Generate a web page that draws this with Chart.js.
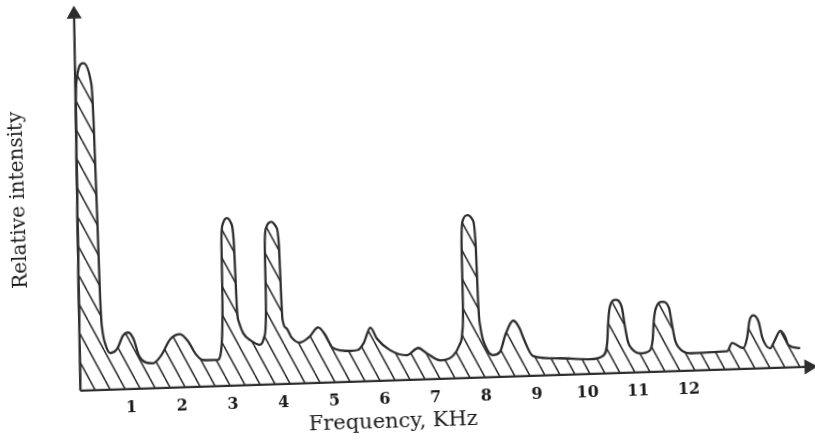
<!DOCTYPE html>
<html>
<head>
<meta charset="utf-8">
<script src="https://cdn.jsdelivr.net/npm/chart.js@4"></script>
<style>
  html, body { margin: 0; padding: 0; background: #fff; overflow: hidden; }
  #wrap {
    position: absolute; left: -20px; top: -20px;
    width: 855px; height: 485px;
    transform: rotate(-1.88deg);
  }
</style>
</head>
<body>
<div id="wrap"><canvas id="spectrum" width="855" height="485"></canvas></div>
<script>
// frequency (kHz) and relative intensity
const freqKHz = [
  0, 0.05, 0.09, 0.12, 0.27, 0.41, 0.435, 0.445, 0.45, 0.47, 0.53, 0.62,
  0.75, 0.88, 0.98, 1.08, 1.18, 1.30, 1.45, 1.62, 1.80, 2.00, 2.15, 2.30, 2.44,
  2.72, 2.80, 2.84, 2.86, 2.87, 2.88, 2.92, 3.00, 3.08, 3.12, 3.13, 3.14, 3.17, 3.25, 3.40, 3.57,
  3.65, 3.70, 3.72, 3.73, 3.77, 3.87, 3.97, 4.01, 4.02, 4.03, 4.10, 4.20, 4.36,
  4.55, 4.73, 4.86, 5.01, 5.35, 5.50, 5.62, 5.76, 5.88, 6.13, 6.46, 6.69, 6.85, 7.12,
  7.38, 7.50, 7.57, 7.60, 7.61, 7.65, 7.75, 7.85, 7.89, 7.90, 7.93, 8.02, 8.16,
  8.30, 8.42, 8.58, 8.70, 8.77, 8.95, 9.47, 10.07, 10.34,
  10.42, 10.45, 10.49, 10.61, 10.73, 10.78, 10.83, 10.90, 11.07,
  11.25, 11.32, 11.35, 11.40, 11.53, 11.66, 11.71, 11.76, 11.82, 12.05, 12.78,
  12.88, 13.10, 13.18, 13.24, 13.32, 13.42, 13.48, 13.63, 13.72, 13.84, 13.93, 13.99, 14.22
];
const intensity = [
  0, 40, 70, 80, 85, 80, 70, 45, 25, 16, 11.5, 9.5,
  10.5, 14, 14.7, 13, 8.5, 6.8, 6.5, 8.5, 12.5, 13.8, 12, 8.5, 6.9,
  6.8, 9, 15, 22, 30, 38, 42.2, 43.6, 42.2, 38, 30, 20, 16.5, 13.5, 11.5, 10.4,
  12, 16, 24, 36, 40.8, 42.2, 40.8, 36, 24, 17, 14.5, 12, 10.6,
  12, 14.4, 12.5, 8.9, 8.0, 8.2, 10, 13.9, 11, 7.9, 6.4, 8.2, 6.8, 4.8,
  6.0, 8.5, 12, 20, 34, 40.9, 42.3, 40.9, 34, 20, 13, 8, 5.7,
  6.5, 11, 14.5, 12.5, 9.9, 5.1, 4.3, 3.8, 4.7,
  8, 13, 17, 19, 17, 12, 8, 6.2, 4.9,
  5.5, 8.5, 13, 16.5, 18.1, 16.5, 12, 8, 6.2, 4.5, 4.7,
  6.8, 5.4, 8, 12.5, 13.8, 12, 8, 5.1, 7, 9.6, 8, 5.8, 4.9
];
const tickValues = [1, 2, 3, 4, 5, 6, 7, 8, 9, 10, 11, 12];
const xAxisEnd = 14.38;
const yAxisEnd = 97.8;
const yAxisTopX = 0.12;   // the hand-drawn vertical axis leans a little

const ink = '#2e2e2e';

// diagonal hatching "\\\" used as the fill
function makeHatch() {
  const c = document.createElement('canvas');
  c.width = 15; c.height = 30;
  const g = c.getContext('2d');
  g.strokeStyle = ink;
  g.lineWidth = 1.6;
  g.beginPath();
  for (const off of [-15, 0, 15]) {
    g.moveTo(off, 0);
    g.lineTo(off + 15, 30);
  }
  g.stroke();
  return g.createPattern(c, 'repeat');
}

const points = freqKHz.map((f, i) => ({ x: f, y: intensity[i] }));

// x-axis title sits left of centre in the original
const axisTitle = {
  id: 'axisTitle',
  afterDraw(chart) {
    const { ctx, scales } = chart;
    ctx.save();
    ctx.fillStyle = '#1a1a1a';
    ctx.font = '21px "DejaVu Serif"';
    ctx.textAlign = 'center';
    ctx.textBaseline = 'middle';
    ctx.fillText('Frequency, KHz', scales.x.getPixelForValue(6.15), 442);
    ctx.restore();
  }
};

new Chart(document.getElementById('spectrum'), {
  type: 'line',
  data: {
    datasets: [
      {
        data: points,
        borderColor: ink,
        borderWidth: 2.3,
        backgroundColor: makeHatch(),
        fill: 'origin',
        pointRadius: 0,
        cubicInterpolationMode: 'monotone'
      },
      {
        // horizontal axis with arrow
        data: [{ x: 0, y: 0 }, { x: xAxisEnd, y: 0 }],
        borderColor: ink,
        borderWidth: 2.3,
        backgroundColor: ink,
        pointStyle: 'triangle',
        rotation: 90,
        pointRadius: [0, 6.5],
        clip: false
      },
      {
        // vertical axis with arrow
        data: [{ x: 0, y: 0 }, { x: yAxisTopX, y: yAxisEnd }],
        borderColor: ink,
        borderWidth: 2.3,
        backgroundColor: ink,
        pointStyle: 'triangle',
        pointRadius: [0, 6.5],
        clip: false
      }
    ]
  },
  options: {
    responsive: false,
    animation: false,
    events: [],
    layout: { autoPadding: false, padding: { left: 20, right: 25, top: 15, bottom: 48 } },
    plugins: { legend: { display: false }, tooltip: { enabled: false } },
    scales: {
      x: {
        type: 'linear',
        min: 0,
        max: 14.5,
        grid: { display: false, drawTicks: false },
        border: { display: false },
        afterBuildTicks: (s) => { s.ticks = tickValues.map(v => ({ value: v })); },
        ticks: {
          autoSkip: false,
          maxRotation: 0,
          padding: 9,
          color: '#1a1a1a',
          font: { family: 'DejaVu Serif', size: 16, weight: 'bold' }
        }
      },
      y: {
        min: 0,
        max: 100,
        grid: { display: false, drawTicks: false },
        border: { display: false },
        ticks: { display: false },
        title: {
          display: true,
          text: 'Relative intensity',
          color: '#1a1a1a',
          font: { family: 'DejaVu Serif', size: 20 },
          padding: { top: 8, bottom: 43 }
        }
      }
    }
  },
  plugins: [axisTitle]
});
</script>
</body>
</html>
